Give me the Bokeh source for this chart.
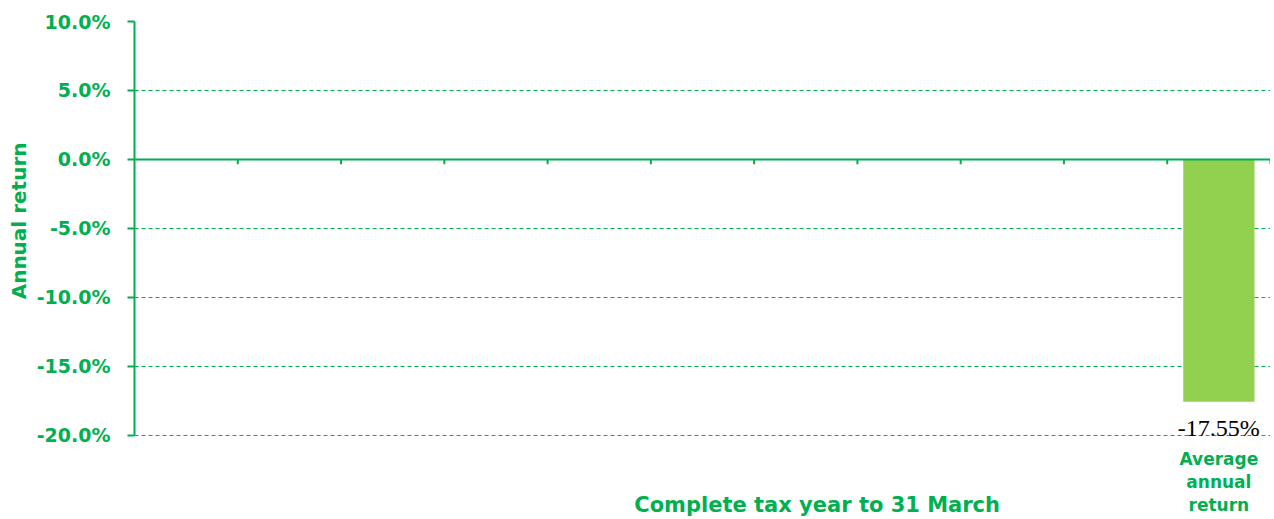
from bokeh.plotting import figure
from bokeh.models import Range1d, FixedTicker, Span, Label, Title, CustomJSTickFormatter
from bokeh.embed import file_html
from bokeh.resources import INLINE

# ---- data ----
categories = ["", "", "", "", "", "", "", "", "", "", "Average annual return"]
returns = [None, None, None, None, None, None, None, None, None, None, -17.55]
y_ticks = [-20, -15, -10, -5, 0, 5, 10]
x_title = "Complete tax year to 31 March"
y_title = "Annual return"

GREEN = "#00B050"
BAR = "#92D050"
FONT = "DejaVu Sans"

n = len(categories)
p = figure(width=1270, height=519, x_range=Range1d(0, n), y_range=Range1d(-26.09, 10),
           output_backend="svg", toolbar_location=None,
           min_border_left=134, min_border_right=0, min_border_top=21, min_border_bottom=0)
p.outline_line_color = None
p.background_fill_color = "white"
p.border_fill_color = "white"
p.xaxis.visible = False
p.xgrid.visible = False

ya = p.yaxis[0]
ya.ticker = FixedTicker(ticks=y_ticks)
ya.bounds = (min(y_ticks), max(y_ticks))
ya.formatter = CustomJSTickFormatter(code="return tick.toFixed(1) + '%';")
ya.axis_line_color = GREEN
ya.axis_line_width = 2
ya.major_tick_line_color = GREEN
ya.major_tick_line_width = 2
ya.major_tick_out = 7
ya.major_tick_in = 0
ya.minor_tick_out = 0
ya.minor_tick_in = 0
ya.major_label_text_color = GREEN
ya.major_label_text_font = FONT
ya.major_label_text_font_style = "bold"
ya.major_label_text_font_size = "19px"
ya.major_label_standoff = 17

p.add_layout(Title(text=y_title, align="right", offset=121, text_color=GREEN,
                   text_font=FONT, text_font_style="bold", text_font_size="20px",
                   standoff=5), "left")

p.ygrid.ticker = FixedTicker(ticks=y_ticks)
p.ygrid.grid_line_color = GREEN
p.ygrid.grid_line_dash = "4 3"
p.ygrid.grid_line_width = 1

# zero axis line
p.add_layout(Span(location=0, dimension="width", line_color=GREEN, line_width=2))

# category boundary ticks on the zero line
bounds = list(range(1, n + 1))
p.segment(x0=bounds, y0=[0] * len(bounds), x1=bounds, y1=[-0.35] * len(bounds),
          line_color=GREEN, line_width=2)

# bars
bx = [i + 0.5 for i, v in enumerate(returns) if v is not None]
bv = [v for v in returns if v is not None]
p.vbar(x=bx, top=bv, bottom=0, width=0.69, fill_color=BAR, line_color=None)

for x, v in zip(bx, bv):
    p.add_layout(Label(x=x, y=v, y_offset=-13, text=f"{v:.2f}%", text_align="center",
                       text_baseline="top", text_font="Liberation Serif",
                       text_font_size="24px", text_color="black"))

# category labels
for i, c in enumerate(categories):
    if c:
        p.add_layout(Label(x=i + 0.5, y=-20, y_offset=-14,
                           text=c.replace("Average ", "Average\n").replace("annual ", "annual\n"),
                           text_align="center", text_baseline="top", text_font=FONT,
                           text_font_style="bold", text_font_size="17px", text_color=GREEN,
                           text_line_height=1.14))

# x title
p.add_layout(Label(x=6.61, y=-20, y_offset=-58, text=x_title, text_align="center",
                   text_baseline="top", text_font=FONT, text_font_style="bold",
                   text_font_size="21px", text_color=GREEN))

open("out.html", "w").write(file_html(p, INLINE))
